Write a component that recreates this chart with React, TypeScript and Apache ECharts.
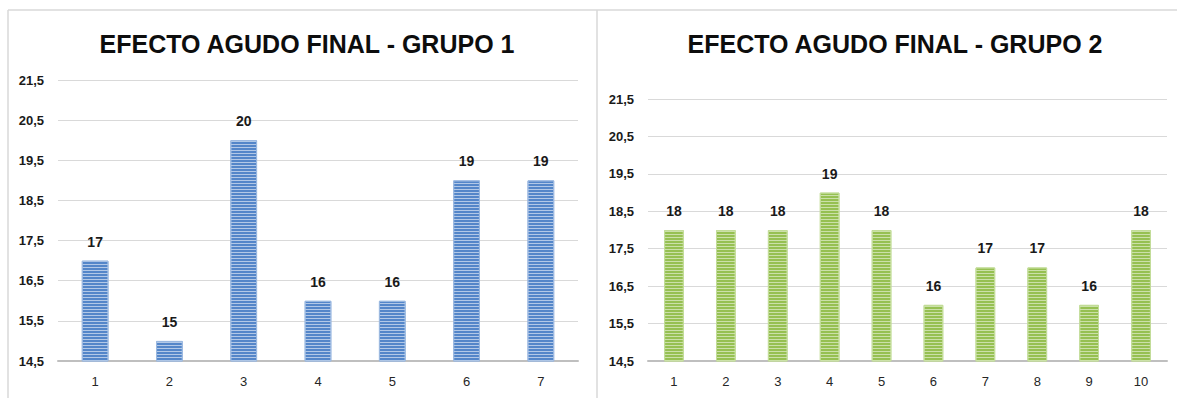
import React, { useEffect, useRef } from "react";
import * as echarts from "echarts";

// Group 1 (blue) and group 2 (green) final acute-effect scores
const group1Categories = ["1", "2", "3", "4", "5", "6", "7"];
const group1Values = [17, 15, 20, 16, 16, 19, 19];

const group2Categories = ["1", "2", "3", "4", "5", "6", "7", "8", "9", "10"];
const group2Values = [18, 18, 18, 19, 18, 16, 17, 17, 16, 18];

const group1Title = "EFECTO AGUDO FINAL - GRUPO 1";
const group2Title = "EFECTO AGUDO FINAL - GRUPO 2";

const axisMin = 14.5;
const axisMax = 21.5;
const axisStep = 1;

const LABEL_FONT = "'Liberation Sans', Arial, sans-serif";
const TITLE_FONT = "'Liberation Sans', Arial, sans-serif";

const fmtTick = (v: number) => v.toFixed(1).replace(".", ",");

function makeYAxis(gridIndex: number) {
  return {
    type: "value",
    gridIndex,
    min: axisMin,
    max: axisMax,
    interval: axisStep,
    axisLine: { show: false },
    axisTick: { show: false },
    splitLine: { lineStyle: { color: "#d9d9d9", width: 1 } },
    axisLabel: {
      formatter: fmtTick,
      color: "#1a1a1a",
      fontFamily: LABEL_FONT,
      fontWeight: "bold",
      fontSize: 13,
      margin: 14,
    },
  };
}

function makeXAxis(gridIndex: number, data: string[]) {
  return {
    type: "category",
    gridIndex,
    data,
    axisLine: { lineStyle: { color: "#bfbfbf", width: 2 } },
    axisTick: { show: false },
    axisLabel: {
      color: "#262626",
      fontFamily: LABEL_FONT,
      fontSize: 13,
      margin: 14,
    },
  };
}

function makeBars(idx: number, data: number[], base: string, stripe: string, border: string, width: string) {
  return {
    type: "bar",
    xAxisIndex: idx,
    yAxisIndex: idx,
    data,
    barWidth: width,
    itemStyle: {
      color: base,
      borderColor: border,
      borderWidth: 1,
      decal: {
        symbol: "rect",
        symbolSize: 1,
        dashArrayX: [1, 0],
        dashArrayY: [1, 2],
        rotation: 0,
        color: stripe,
      },
    },
    label: {
      show: true,
      position: "top",
      distance: 12,
      color: "#1a1a1a",
      fontFamily: LABEL_FONT,
      fontWeight: "bold",
      fontSize: 14,
    },
  };
}

export default function App() {
  const ref = useRef<HTMLDivElement>(null);

  useEffect(() => {
    if (!ref.current) return;
    const chart = echarts.init(ref.current, undefined, { renderer: "svg" });
    chart.setOption({
      animation: false,
      backgroundColor: "#ffffff",
      title: [
        {
          text: group1Title,
          left: 302,
          top: 26,
          textAlign: "center",
          textStyle: { fontFamily: TITLE_FONT, fontWeight: "bold", fontSize: 25, color: "#0d0d0d" },
        },
        {
          text: group2Title,
          left: 890,
          top: 26,
          textAlign: "center",
          textStyle: { fontFamily: TITLE_FONT, fontWeight: "bold", fontSize: 25, color: "#0d0d0d" },
        },
      ],
      graphic: [
        { type: "line", shape: { x1: 8, y1: 10, x2: 1177, y2: 10 }, style: { stroke: "#d9d9d9", lineWidth: 1.5 } },
        { type: "line", shape: { x1: 8, y1: 10, x2: 8, y2: 398 }, style: { stroke: "#d9d9d9", lineWidth: 1.5 } },
        { type: "line", shape: { x1: 597, y1: 10, x2: 597, y2: 398 }, style: { stroke: "#d9d9d9", lineWidth: 1.5 } },
      ],
      grid: [
        { left: 58, right: 599, top: 80, bottom: 37 },
        { left: 648, right: 10, top: 99, bottom: 37 },
      ],
      xAxis: [makeXAxis(0, group1Categories), makeXAxis(1, group2Categories)],
      yAxis: [makeYAxis(0), makeYAxis(1)],
      series: [
        makeBars(0, group1Values, "#5486c9", "rgba(255,255,255,0.55)", "#9ab8e0", "36%"),
        makeBars(1, group2Values, "#96c052", "rgba(255,255,255,0.5)", "#c2dc98", "38%"),
      ],
    });
    return () => chart.dispose();
  }, []);

  return (
    <div
      ref={ref}
      style={{ position: "fixed", left: 0, top: 0, width: 1177, height: 398, background: "#fff" }}
    />
  );
}
